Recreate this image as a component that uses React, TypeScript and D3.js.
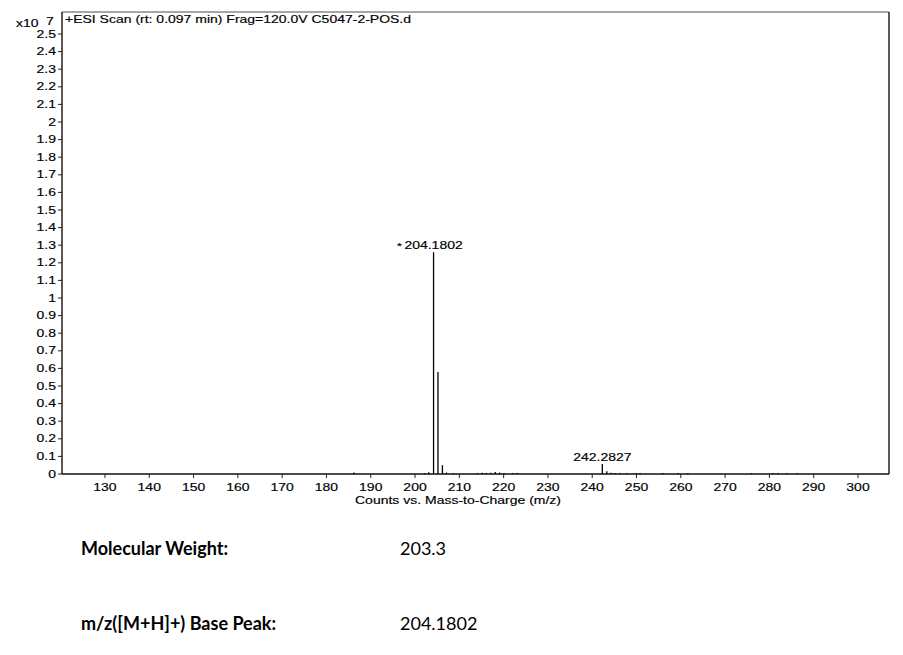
import React from "react";
import * as d3 from "d3";

// spectrum: m/z and counts (x10^7)
const peakMz = [
  186.2, 202.1, 203.1, 204.18, 205.18, 206.18, 207.1, 208.7, 214.1, 215.2, 216.1,
  217.1, 218.1, 219.1, 220.1, 222.1, 223.1, 242.28, 243.3, 244.2, 245.2, 246.3,
  247.8, 249.9, 250.8, 256.0, 259.4, 261.6, 276.0, 280.8, 282.0, 284.0, 286.2,
];
const peakCounts = [
  0.008, 0.006, 0.01, 1.26, 0.58, 0.05, 0.008, 0.005, 0.006, 0.007, 0.006,
  0.007, 0.012, 0.008, 0.006, 0.006, 0.006, 0.057, 0.015, 0.007, 0.006, 0.006,
  0.006, 0.006, 0.005, 0.006, 0.006, 0.006, 0.005, 0.006, 0.006, 0.006, 0.006,
];
const labelledPeaks = [
  { mz: 204.18, counts: 1.26, text: "204.1802", star: true },
  { mz: 242.28, counts: 0.057, text: "242.2827", star: false },
];
const xTicks = [130, 140, 150, 160, 170, 180, 190, 200, 210, 220, 230, 240, 250, 260, 270, 280, 290, 300];
const yTicks = d3.range(0, 26).map(i => i / 10);
const yTickLabels = yTicks.map(v => (Number.isInteger(v) ? String(v) : v.toFixed(1)));
const titleText = "+ESI Scan (rt: 0.097 min) Frag=120.0V C5047-2-POS.d";
const xAxisTitle = "Counts vs. Mass-to-Charge (m/z)";
const infoRows = [
  { label: "Molecular Weight:", value: "203.3" },
  { label: "m/z([M+H]+) Base Peak:", value: "204.1802" },
];

const W = 903;
const H = 655;
const plot = { left: 62, right: 889, top: 12, bottom: 474 };
const chartFont = "'Liberation Sans', Arial, sans-serif";
const SX = 1.4; // chart text looks horizontally stretched

// stretched text helper
const T: React.FC<{ x: number; y: number; anchor?: string; size?: number; children: React.ReactNode }> = ({
  x, y, anchor = "start", size = 10, children,
}) => (
  <text
    transform={`translate(${x},${y}) scale(${SX},1)`}
    textAnchor={anchor}
    fontFamily={chartFont}
    fontSize={size}
    fill="#000"
    stroke="#000"
    strokeWidth={0.15}
  >
    {children}
  </text>
);

export default function App() {
  const x = d3.scaleLinear().domain([120.3, 307]).range([plot.left, plot.right]);
  const y = d3.scaleLinear().domain([0, 2.625]).range([plot.bottom, plot.top]);

  return (
    <svg width={W} height={H} style={{ position: "absolute", left: 0, top: 0, background: "#fff" }}>
      <rect x={0} y={0} width={W} height={H} fill="#fff" />

      {/* frame */}
      <line x1={plot.left} x2={plot.right} y1={plot.top} y2={plot.top} stroke="#888" strokeWidth={1.5} />
      <line x1={plot.right} x2={plot.right} y1={plot.top} y2={plot.bottom} stroke="#222" strokeWidth={1.5} />
      <line x1={plot.left} x2={plot.left} y1={plot.top} y2={plot.bottom} stroke="#222" strokeWidth={1.5} />
      <line x1={plot.left} x2={plot.right} y1={plot.bottom} y2={plot.bottom} stroke="#111" strokeWidth={1.5} />

      {/* y axis */}
      {yTicks.map((v, i) => (
        <g key={`y${i}`}>
          <line x1={plot.left - 4} x2={plot.left} y1={y(v)} y2={y(v)} stroke="#222" />
          <T x={plot.left - 6} y={y(v) + 3.5} anchor="end">{yTickLabels[i]}</T>
        </g>
      ))}
      <T x={16} y={27}>x10</T>
      <T x={46} y={25}>7</T>

      {/* x axis */}
      {xTicks.map(v => (
        <g key={`x${v}`}>
          <line x1={x(v)} x2={x(v)} y1={plot.bottom} y2={plot.bottom + 4} stroke="#222" />
          <T x={x(v)} y={plot.bottom + 17} anchor="middle">{v}</T>
        </g>
      ))}
      <T x={458} y={504} anchor="middle">{xAxisTitle}</T>

      {/* title */}
      <T x={plot.left + 3} y={23}>{titleText}</T>

      {/* peaks */}
      {peakMz.map((m, i) => (
        <line
          key={`p${i}`}
          x1={x(m)}
          x2={x(m)}
          y1={y(0)}
          y2={y(peakCounts[i])}
          stroke="#000"
          strokeWidth={1.3}
        />
      ))}
      {labelledPeaks.map(p => (
        <g key={p.text}>
          <T x={x(p.mz)} y={y(p.counts) - 3} anchor="middle">{p.text}</T>
          {p.star && <T x={x(p.mz) - 34} y={y(p.counts) - 3} size={9} anchor="middle">*</T>}
        </g>
      ))}

      {/* info rows */}
      {infoRows.map((r, i) => (
        <g key={r.label} fontFamily="Lato, 'Open Sans', sans-serif" fontSize={18} fill="#000">
          <text x={81} y={555 + i * 75} fontWeight="bold">{r.label}</text>
          <text x={400} y={555 + i * 75}>{r.value}</text>
        </g>
      ))}
    </svg>
  );
}
